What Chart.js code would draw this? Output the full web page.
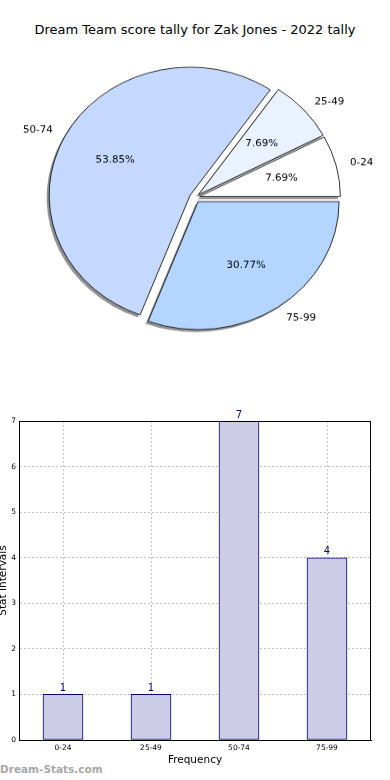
<!DOCTYPE html>
<html><head><meta charset="utf-8">
<script src="https://cdn.jsdelivr.net/npm/chart.js@4.4.1/dist/chart.umd.min.js"></script>
<style>
html,body{margin:0;padding:0;background:#fff;width:390px;height:780px;overflow:hidden;position:relative;font-family:"DejaVu Sans",sans-serif;}
#title{position:absolute;left:0;top:21px;width:390px;text-align:center;font-size:13px;line-height:18px;color:#000;}
#pieWrap{position:absolute;left:0;top:0;width:390px;height:435px;transform:scaleY(0.908);transform-origin:0 0;z-index:2;pointer-events:none}
#barWrap{position:absolute;left:0;top:400px;width:390px;height:380px;z-index:1}
#wm{position:absolute;left:0;top:761px;font-size:10.5px;line-height:16px;color:#a8a8a8;font-weight:bold;white-space:nowrap}
canvas{display:block}
</style></head>
<body>
<div id="title">Dream Team score tally for Zak Jones - 2022 tally</div>
<div id="barWrap"><canvas id="bar" width="390" height="380"></canvas></div>
<div id="pieWrap"><canvas id="pie" width="390" height="435"></canvas></div>
<div id="wm">Dream-Stats.com</div>
<script>
// ---- data ----
const categories = ['0-24', '25-49', '50-74', '75-99'];
const counts = [1, 1, 7, 4];
const pieColors = ['#ffffff', '#eaf2ff', '#c5d9ff', '#b4d5ff'];
const explodePx = [4.5, 4.5, 5.5, 5.5];
const yTicks = [0, 1, 2, 3, 4, 5, 6, 7];

const SY = 0.908; // vertical squash of the pie canvas
const total = counts.reduce((a, b) => a + b, 0);

// Chart.js draws clockwise; reverse order so slices run counter-clockwise from 3 o'clock
const order = [3, 2, 1, 0];
const pieLabels = order.map(i => categories[i]);
const pieValues = order.map(i => counts[i]);
const pieCols = order.map(i => pieColors[i]);
const pieExplode = order.map(i => explodePx[i]);

function arcGeom(arc, k) {
  const p = arc.getProps(['x', 'y', 'startAngle', 'endAngle', 'outerRadius'], true);
  const mid = (p.startAngle + p.endAngle) / 2;
  const d = pieExplode[k];
  return {dx: Math.cos(mid) * d, dy: Math.sin(mid) * d, cx: p.x + Math.cos(mid) * d, cy: p.y + Math.sin(mid) * d,
          mid, s: p.startAngle, e: p.endAngle, R: p.outerRadius};
}

const explodedPiePlugin = {
  id: 'explodedPie',
  beforeDatasetsDraw(chart) {
    const ctx = chart.ctx;
    const meta = chart.getDatasetMeta(0);
    // shadows under every wedge
    ctx.save();
    ctx.fillStyle = 'rgba(40,40,40,0.5)';
    meta.data.forEach((arc, k) => {
      const g = arcGeom(arc, k);
      const sx = g.cx - 2.5, sy = g.cy + 2.5 / SY;
      ctx.beginPath();
      ctx.moveTo(sx, sy);
      ctx.arc(sx, sy, g.R, g.s, g.e);
      ctx.closePath();
      ctx.fill();
    });
    ctx.restore();
    // wedges, each pushed out along its mid angle
    meta.data.forEach((arc, k) => {
      const g = arcGeom(arc, k);
      ctx.save();
      ctx.translate(g.dx, g.dy);
      arc.draw(ctx, chart.chartArea);
      ctx.restore();
    });
    return false;
  },
  afterDraw(chart) {
    const ctx = chart.ctx;
    const meta = chart.getDatasetMeta(0);
    ctx.save();
    ctx.fillStyle = '#000';
    ctx.font = '10.3px "DejaVu Sans"';
    ctx.textBaseline = 'middle';
    const draw = (txt, x, y, align) => {
      ctx.save();
      ctx.translate(x, y);
      ctx.scale(1, 1 / SY);
      ctx.textAlign = align;
      ctx.fillText(txt, 0, 0);
      ctx.restore();
    };
    meta.data.forEach((arc, k) => {
      const g = arcGeom(arc, k);
      const pct = (pieValues[k] / total * 100).toFixed(2) + '%';
      draw(pct, g.cx + Math.cos(g.mid) * g.R * 0.6, g.cy + Math.sin(g.mid) * g.R * 0.6, 'center');
      draw(pieLabels[k], g.cx + Math.cos(g.mid) * g.R * 1.1, g.cy + Math.sin(g.mid) * g.R * 1.1,
           Math.cos(g.mid) < 0 ? 'right' : 'left');
    });
    ctx.restore();
  }
};

new Chart(document.getElementById('pie'), {
  type: 'pie',
  data: {labels: pieLabels, datasets: [{data: pieValues, backgroundColor: pieCols, borderColor: '#000', borderWidth: 0.8, offset: 0}]},
  options: {
    responsive: false, animation: false, events: [], rotation: 90, radius: 141,
    layout: {padding: 0},
    plugins: {legend: {display: false}, tooltip: {enabled: false}, title: {display: false}}
  },
  plugins: [explodedPiePlugin]
});

const valueLabelPlugin = {
  id: 'valueLabels',
  afterDatasetsDraw(chart) {
    const ctx = chart.ctx;
    const meta = chart.getDatasetMeta(0);
    ctx.save();
    ctx.fillStyle = '#00008b';
    ctx.font = '10px "DejaVu Sans"';
    ctx.textAlign = 'center';
    ctx.textBaseline = 'bottom';
    meta.data.forEach((bar, i) => {
      ctx.fillText(String(counts[i]), bar.x, bar.y - 1);
    });
    ctx.restore();
  },
  afterDraw(chart) {
    const a = chart.chartArea, ctx = chart.ctx;
    ctx.save();
    ctx.strokeStyle = '#000';
    ctx.lineWidth = 1;
    ctx.strokeRect(Math.round(a.left) + 0.5, Math.round(a.top) + 0.5, Math.round(a.right - a.left) - 1, Math.round(a.bottom - a.top));
    ctx.restore();
  }
};

new Chart(document.getElementById('bar'), {
  type: 'bar',
  data: {labels: categories, datasets: [{data: counts, backgroundColor: 'rgb(204,204,230)', borderColor: '#000080', borderWidth: 1, barThickness: 40, borderSkipped: false}]},
  options: {
    responsive: false, animation: false, events: [],
    layout: {padding: {top: 21, right: 19, left: 0, bottom: 0}},
    plugins: {legend: {display: false}, tooltip: {enabled: false}},
    scales: {
      x: {
        offset: true,
        grid: {offset: false, color: '#c4c4c4', lineWidth: 1, drawTicks: false},
        border: {display: true, color: '#000', width: 1, dash: [2, 2]},
        ticks: {font: {size: 7.5, family: 'DejaVu Sans'}, color: '#000', padding: 4},
        title: {display: true, text: 'Frequency', color: '#000', font: {size: 10.5, family: 'DejaVu Sans', lineHeight: 1.2}, padding: {top: 0, bottom: 13}},
        afterFit(s) { s.height = 40; }
      },
      y: {
        min: 0, max: 7,
        afterBuildTicks(s) { s.ticks = yTicks.map(v => ({value: v})); },
        grid: {color: '#c4c4c4', lineWidth: 1, drawTicks: false},
        border: {display: true, color: '#000', width: 1, dash: [2, 2]},
        ticks: {font: {size: 7.5, family: 'DejaVu Sans'}, color: '#000', padding: 3},
        title: {display: true, text: 'Stat Intervals', color: '#000', font: {size: 10.5, family: 'DejaVu Sans', lineHeight: 0.7}, padding: {top: 0, bottom: 0}},
        afterFit(s) { s.width = 19; }
      }
    }
  },
  plugins: [valueLabelPlugin]
});
</script>
</body></html>
